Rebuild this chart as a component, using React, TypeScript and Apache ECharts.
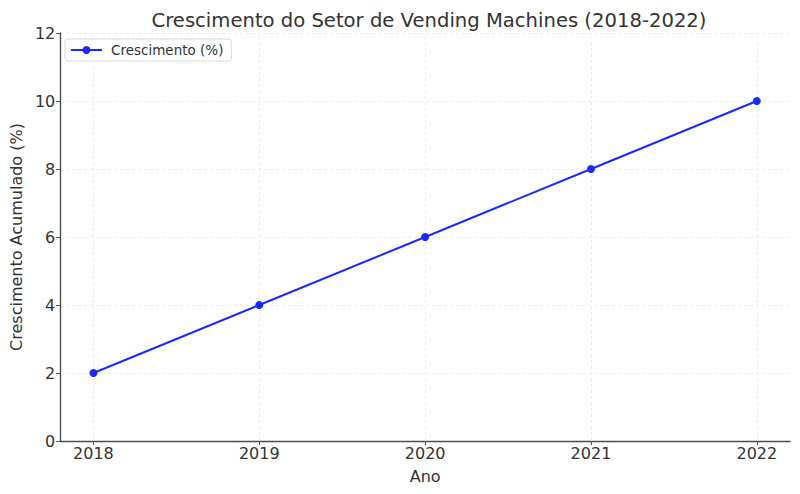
import React, { useEffect, useRef } from "react";
import * as echarts from "echarts";

const years = [2018, 2019, 2020, 2021, 2022];
const growth = [2, 4, 6, 8, 10];

const TEXT = "#333333";
const FONT = "DejaVu Sans";
const GRID = "#e8e8e8";

export default function App() {
  const ref = useRef<HTMLDivElement>(null);
  useEffect(() => {
    if (!ref.current) return;
    const chart = echarts.init(ref.current, null, { renderer: "svg" });
    chart.setOption({
      animation: false,
      backgroundColor: "#ffffff",
      textStyle: { fontFamily: FONT },
      title: {
        text: "Crescimento do Setor de Vending Machines (2018-2022)",
        left: 424,
        textAlign: "center",
        top: 5,
        textStyle: { fontFamily: FONT, fontSize: 19.6, fontWeight: "normal", color: TEXT },
      },
      legend: {
        left: 65,
        top: 39,
        orient: "vertical",
        itemWidth: 31,
        itemHeight: 10,
        itemGap: 4,
        padding: [4, 8, 4, 5],
        borderColor: "#d9d9d9",
        borderWidth: 1,
        borderRadius: 3,
        backgroundColor: "#ffffff",
        textStyle: { fontFamily: FONT, fontSize: 13.5, color: TEXT, padding: [0, 0, 0, 4] },
        data: ["Crescimento (%)"],
      },
      grid: { left: 59, right: 10, top: 33, bottom: 53 },
      xAxis: {
        type: "value",
        min: 2017.8,
        max: 2022.2,
        name: "Ano",
        nameLocation: "middle",
        nameGap: 27,
        nameTextStyle: { fontFamily: FONT, fontSize: 16, color: TEXT },
        axisLine: { show: true, lineStyle: { color: "#4d4d4d", width: 1.4 } },
        axisTick: { show: true, customValues: years, length: 4, lineStyle: { color: "#4d4d4d" } },
        axisLabel: {
          customValues: years,
          fontFamily: FONT,
          fontSize: 16,
          color: TEXT,
          margin: 4,
          formatter: (v: number) => String(Math.round(v)),
        },
        splitLine: { show: false },
      },
      yAxis: {
        type: "value",
        min: 0,
        max: 12,
        interval: 2,
        name: "Crescimento Acumulado (%)",
        nameLocation: "middle",
        nameGap: 33,
        nameTextStyle: { fontFamily: FONT, fontSize: 16, color: TEXT },
        axisLine: { show: true, lineStyle: { color: "#4d4d4d", width: 1.4 } },
        axisTick: { show: true, length: 4, lineStyle: { color: "#4d4d4d" } },
        axisLabel: { fontFamily: FONT, fontSize: 16, color: TEXT, margin: 5 },
        splitLine: { show: true, lineStyle: { color: GRID, type: [3, 3], width: 0.8 } },
      },
      series: [
        {
          name: "Crescimento (%)",
          type: "line",
          data: years.map((y, i) => [y, growth[i]]),
          symbol: "circle",
          symbolSize: 8,
          lineStyle: { color: "#1a2aff", width: 2 },
          itemStyle: { color: "#1a2aff" },
          z: 3,
          markLine: {
            silent: true,
            symbol: "none",
            label: { show: false },
            lineStyle: { color: GRID, type: [3, 3], width: 0.8 },
            data: years.map((y) => ({ xAxis: y })),
            z: 1,
          },
        },
      ],
    });
    return () => chart.dispose();
  }, []);
  return <div ref={ref} style={{ width: 800, height: 494, position: "absolute", left: 0, top: 0 }} />;
}
